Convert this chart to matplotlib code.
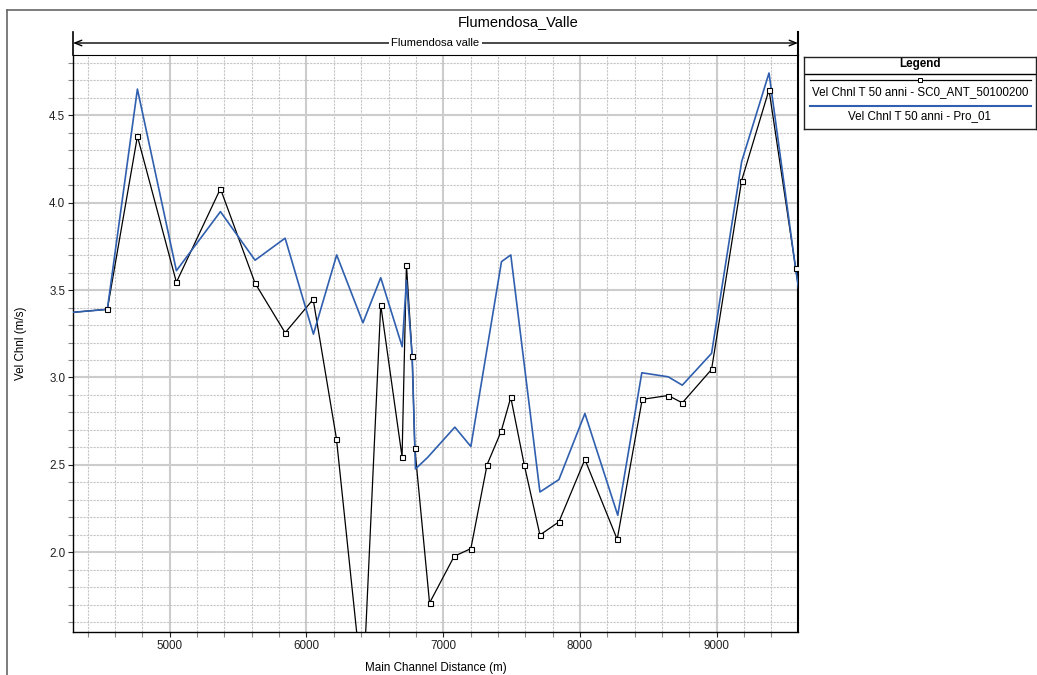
import matplotlib
matplotlib.use("Agg")
import matplotlib.pyplot as plt
from matplotlib.lines import Line2D
from matplotlib.ticker import MultipleLocator

plt.rcParams["font.family"] = ["Liberation Sans", "DejaVu Sans"]

# ── data ───────────────────────────────────────────────────────────────
# SC0_ANT_50100200 (black, square markers)
dist_ant = [4250, 4544, 4764, 5049, 5371, 5624, 5844, 6049, 6219, 6413,
            6543, 6699, 6731, 6773, 6792, 6900, 7080, 7202, 7321, 7424,
            7494, 7592, 7707, 7846, 8036, 8272, 8455, 8645, 8748, 8962,
            9182, 9382, 9577, 9650]
vel_ant = [3.37, 3.39, 4.38, 3.545, 4.08, 3.54, 3.256, 3.447, 2.651, 1.20,
           3.415, 2.546, 3.644, 3.124, 2.597, 1.71, 1.977, 2.021, 2.502, 2.693,
           2.886, 2.502, 2.099, 2.174, 2.531, 2.074, 2.875, 2.897, 2.855, 3.046,
           4.127, 4.646, 3.625, 3.24]

# Pro_01 (blue)
dist_pro = [4250, 4544, 4764, 5049, 5371, 5624, 5844, 6051, 6221, 6413,
            6543, 6700, 6731, 6773, 6797, 6885, 7085, 7202, 7426, 7494,
            7707, 7846, 8036, 8276, 8452, 8645, 8748, 8962, 9182, 9382,
            9577, 9650]
vel_pro = [3.37, 3.39, 4.65, 3.611, 3.949, 3.671, 3.797, 3.248, 3.701, 3.313,
           3.571, 3.176, 3.556, 3.12, 2.477, 2.542, 2.716, 2.605, 3.663, 3.701,
           2.345, 2.416, 2.794, 2.212, 3.027, 3.004, 2.956, 3.138, 4.235, 4.742,
           3.62, 3.24]

label_ant = "Vel Chnl T 50 anni - SC0_ANT_50100200"
label_pro = "Vel Chnl T 50 anni - Pro_01"
BLUE = "#2f5fae"
FS = 8.4

W, H = 1037, 675
fig = plt.figure(figsize=(W / 100, H / 100), dpi=100, facecolor="white")

# outer frame (left + top)
fig.add_artist(Line2D([7 / W, 7 / W], [0, 1 - 10 / H], color="#666666", lw=1.2))
fig.add_artist(Line2D([7 / W, 1], [1 - 10 / H, 1 - 10 / H], color="#666666", lw=1.2))

fig.text(518 / W, 1 - 22 / H, "Flumendosa_Valle", ha="center", va="center", fontsize=10.5)

# ── main axes ──────────────────────────────────────────────────────────
L, R, T, B = 73, 798, 55, 632
ax = fig.add_axes([L / W, 1 - B / H, (R - L) / W, (B - T) / H])
ax.set_xlim(4293, 9594)
ax.set_ylim(1.544, 4.845)

ax.xaxis.set_major_locator(MultipleLocator(1000))
ax.xaxis.set_minor_locator(MultipleLocator(200))
ax.yaxis.set_major_locator(MultipleLocator(0.5))
ax.yaxis.set_minor_locator(MultipleLocator(0.1))
ax.yaxis.set_major_formatter(matplotlib.ticker.FormatStrFormatter("%.1f"))

ax.grid(which="major", color="#cccccc", lw=1.5, ls="-")
ax.grid(which="minor", color="#c6c6c6", lw=0.8, ls=(0, (2, 1)))
ax.set_axisbelow(True)

ax.tick_params(which="both", direction="out", length=3.5, width=0.8, labelsize=FS,
               pad=2, colors="#222222")
ax.tick_params(which="minor", color="#888888")

for side in ("left", "bottom"):
    ax.spines[side].set_linewidth(1.0)
ax.spines["right"].set_linewidth(1.5)
ax.spines["top"].set_linewidth(0.8)

ax.plot(dist_ant, vel_ant, color="black", lw=0.9, zorder=3)
ax.plot(dist_pro, vel_pro, color=BLUE, lw=1.2, zorder=4)
ax.plot(dist_ant, vel_ant, ls="none", marker="s", ms=3.6, mfc="white",
        mec="black", mew=0.8, zorder=5)

ax.set_xlabel("Main Channel Distance (m)", fontsize=FS)
ax.set_ylabel("Vel Chnl (m/s)", fontsize=FS)
ax.xaxis.set_label_coords(0.5, (B - 662) / (B - T))
ax.yaxis.set_label_coords((27 - L) / (R - L), 0.5)

# reach bracket above the plot
top_ext = (B - 32) / (B - T)
y_arrow = (B - 43) / (B - T)
for xf in (0, 1):
    ax.plot([xf, xf], [1, top_ext], transform=ax.transAxes, color="black",
            lw=1.2 if xf == 0 else 1.5, clip_on=False)
ax.annotate("", xy=(0, y_arrow), xytext=(1, y_arrow), xycoords="axes fraction",
            arrowprops=dict(arrowstyle="<->,head_length=0.5,head_width=0.2",
                            color="black", lw=1.0, shrinkA=0, shrinkB=0))
ax.text(0.5, y_arrow, "Flumendosa valle", transform=ax.transAxes, ha="center",
        va="center", fontsize=FS - 0.3,
        bbox=dict(facecolor="white", edgecolor="none", pad=2))

# ── legend box ─────────────────────────────────────────────────────────
lx0, lx1, ly0, ly1 = 804, 1036, 57, 129
lg = fig.add_axes([lx0 / W, 1 - ly1 / H, (lx1 - lx0) / W, (ly1 - ly0) / H])
lw_box = lx1 - lx0
lg.set_xlim(0, lw_box)
lg.set_ylim(ly1 - ly0, 0)
lg.set_xticks([])
lg.set_yticks([])
for s in lg.spines.values():
    s.set_linewidth(1.0)
    s.set_color("#222222")
cx = lw_box / 2
lg.text(cx, 7.5, "Legend", ha="center", va="center", fontsize=FS, fontweight="bold")
lg.plot([0, lw_box], [17, 17], color="black", lw=1.0)
lg.plot([6, lw_box - 5], [23, 23], color="black", lw=0.9)
lg.plot([cx], [23], ls="none", marker="s", ms=3.2, mfc="white", mec="black", mew=0.7)
lg.text(cx, 35, label_ant, ha="center", va="center", fontsize=FS)
lg.plot([6, lw_box - 5], [48.5, 48.5], color=BLUE, lw=1.5)
lg.text(cx, 59.5, label_pro, ha="center", va="center", fontsize=FS)

fig.savefig("out.png", dpi=100, facecolor="white")
